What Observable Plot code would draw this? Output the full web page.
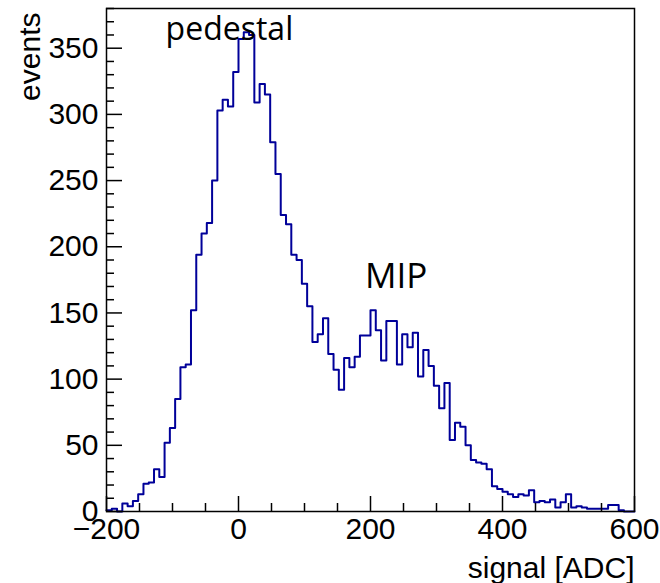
<!DOCTYPE html>
<html><head><meta charset="utf-8">
<script src="https://cdn.jsdelivr.net/npm/d3@7"></script>
<script src="https://cdn.jsdelivr.net/npm/@observablehq/plot@0.6"></script>
<style>
html,body{margin:0;padding:0;background:#fff;}
#chart{width:660px;height:583px;overflow:hidden;}
</style></head><body><div id="chart"></div>
<script>
// Histogram: 100 bins of 8 ADC from -200 to 600
const xMin = -200, xMax = 600, binWidth = 8;
const counts = [
  1, 2, 0, 6, 4, 8, 13, 21, 22, 32,
  26, 52, 63, 85, 109, 111, 152, 194, 210, 218,
  250, 303, 311, 306, 332, 357, 362, 360, 309, 323,
  315, 279, 255, 224, 217, 194, 190, 172, 155, 128,
  134, 146, 119, 107, 92, 116, 109, 117, 133, 133,
  152, 137, 114, 144, 144, 111, 134, 124, 135, 102,
  122, 110, 95, 78, 97, 54, 67, 64, 50, 39,
  37, 36, 32, 19, 17, 15, 13, 11, 13, 12,
  16, 7, 8, 7, 9, 3, 7, 13, 3, 4,
  3, 2, 2, 2, 2, 5, 5, 1, 0, 0
];
const xMajorTicks = [-200, 0, 200, 400, 600];
const xMinorTicks = [-150, -100, -50, 50, 100, 150, 250, 300, 350, 450, 500, 550];
const yMajorTicks = [0, 50, 100, 150, 200, 250, 300, 350];
const yMinorTicks = [10, 20, 30, 40, 60, 70, 80, 90, 110, 120, 130, 140, 160, 170, 180, 190,
  210, 220, 230, 240, 260, 270, 280, 290, 310, 320, 330, 340, 360, 370, 380];
const xLabel = "signal [ADC]";
const yLabel = "events";
const peakLabels = ["pedestal", "MIP"];

// step outline points at bin edges
const steps = counts.map((c, i) => ({x: xMin + i * binWidth, y: c}));
steps.push({x: xMax, y: counts[counts.length - 1]});

// anchor annotations at the pedestal peak and the MIP peak (from data)
const pedIdx = counts.indexOf(d3.max(counts));
const mipSlice = counts.slice(40);
const mipIdx = 40 + mipSlice.indexOf(d3.max(mipSlice));
const pedPt = {x: xMin + (pedIdx + 0.5) * binWidth, y: counts[pedIdx], label: peakLabels[0]};
const mipPt = {x: xMin + (mipIdx + 0.5) * binWidth, y: counts[mipIdx], label: peakLabels[1]};

const axisFont = "Liberation Sans, Arial, Helvetica, sans-serif";
const annFont = "Open Sans, sans-serif";
const lineColor = "#000099";

const chart = Plot.plot({
  width: 660,
  height: 583,
  marginLeft: 106,
  marginRight: 26,
  marginTop: 8,
  marginBottom: 72,
  style: {background: "white", overflow: "visible"},
  x: {domain: [xMin, xMax]},
  y: {domain: [0, 380]},
  marks: [
    Plot.line(steps, {x: "x", y: "y", curve: "step-after", stroke: lineColor, strokeWidth: 2}),
    Plot.frame({stroke: "black", strokeWidth: 1.5}),
    // ticks inside the frame
    Plot.axisY(yMajorTicks, {tickSize: -16, fill: "none", stroke: "black", strokeWidth: 1.5, label: null}),
    Plot.axisY(yMinorTicks, {tickSize: -8, fill: "none", stroke: "black", strokeWidth: 1.5, label: null}),
    Plot.axisX(xMajorTicks, {tickSize: -15, fill: "none", stroke: "black", strokeWidth: 1.5, label: null}),
    Plot.axisX(xMinorTicks, {tickSize: -8, fill: "none", stroke: "black", strokeWidth: 1.5, label: null}),
    // tick labels
    Plot.axisY(yMajorTicks, {tickSize: 0, tickPadding: 8, fontSize: 30, fontFamily: axisFont, fill: "black", label: null}),
    Plot.axisX(xMajorTicks, {tickSize: 0, tickPadding: 6, fontSize: 30, fontFamily: axisFont, fill: "black", label: null}),
    // axis titles
    Plot.text([xLabel], {frameAnchor: "bottom-right", textAnchor: "end", lineAnchor: "bottom", dy: 66,
      fontSize: 30, fontFamily: axisFont, fill: "black"}),
    Plot.text([yLabel], {frameAnchor: "top-left", rotate: -90, textAnchor: "end", lineAnchor: "bottom",
      dx: -67, dy: 4, fontSize: 30, fontFamily: axisFont, fill: "black"}),
    // annotations
    Plot.text([pedPt], {x: "x", y: "y", text: "label", textAnchor: "middle", lineAnchor: "bottom",
      dx: -17, dy: 8, fontSize: 32, fontFamily: annFont, fill: "black"}),
    Plot.text([mipPt], {x: "x", y: "y", text: "label", textAnchor: "middle", lineAnchor: "bottom",
      dx: 23, dy: -22, fontSize: 35, fontFamily: annFont, fill: "black"})
  ]
});
document.getElementById("chart").appendChild(chart);
</script>
</body></html>
